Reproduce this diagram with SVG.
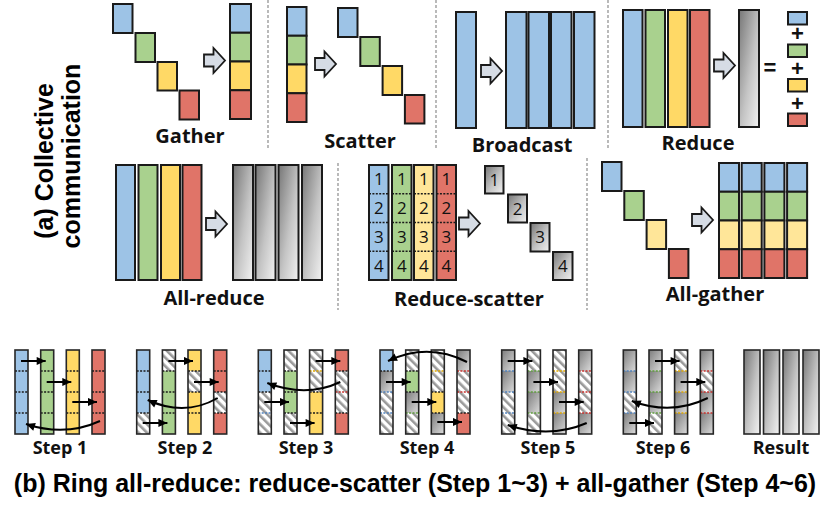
<svg xmlns="http://www.w3.org/2000/svg" width="831" height="511" viewBox="0 0 831 511">
<defs>
<style>
.k{stroke:#1a1a1a;stroke-width:2}
.k2{stroke:#262626;stroke-width:1.6}
.B{fill:#9dc3e6}.G{fill:#a9d18e}.Y{fill:#ffd966}.YL{fill:#ffe699}.R{fill:#e07468}
.GR{fill:url(#grad)}.H{fill:url(#hatch)}.S{fill:url(#sgrad)}
.ol{fill:none;stroke:#262626;stroke-width:1.6}
.sep{stroke:#8c8c8c;stroke-width:1.2;stroke-dasharray:3 2;fill:none}
.lbl{font-family:"Open Sans","Liberation Sans",sans-serif;font-weight:700;font-size:20px;fill:#111;text-anchor:middle}
.st{font-family:"Open Sans","Liberation Sans",sans-serif;font-weight:700;font-size:18px;fill:#111;text-anchor:middle}
.cap{font-family:"Liberation Sans",Arial,sans-serif;font-weight:700;font-size:25px;fill:#000;text-anchor:middle}
.num{font-family:"Open Sans","Liberation Sans",sans-serif;font-size:17px;fill:#111;text-anchor:middle}
.op{font-family:"Liberation Sans",Arial,sans-serif;font-weight:700;font-size:22px;fill:#111;text-anchor:middle}
.ar{fill:none;stroke:#000;stroke-width:2;marker-end:url(#ah)}
.d{fill:none;stroke-width:1.3;stroke-dasharray:2 1.4}
.dk{stroke:#1a1a1a}.db{stroke:#4f81bd}.dg{stroke:#5f9e3c}.dy{stroke:#e0a800}.dr{stroke:#c9302c}
.blk{fill:#d6dce5;stroke:#1a1a1a;stroke-width:1.8}
</style>
<linearGradient id="grad" x1="0" y1="0" x2="1" y2="1"><stop offset="0" stop-color="#767676"/><stop offset="0.55" stop-color="#c4c4c4"/><stop offset="1" stop-color="#f2f2f2"/></linearGradient>
<linearGradient id="sgrad" x1="0" y1="0" x2="1" y2="1"><stop offset="0" stop-color="#7c7c7c"/><stop offset="1" stop-color="#dcdcdc"/></linearGradient>
<pattern id="hatch" patternUnits="userSpaceOnUse" width="6" height="6" patternTransform="rotate(-45)"><rect width="6" height="6" fill="#fff"/><rect width="2.6" height="6" fill="#9a9a9a"/></pattern>
<marker id="ah" viewBox="0 0 10 10" refX="10" refY="5" markerWidth="10" markerHeight="9" markerUnits="userSpaceOnUse" orient="auto"><path d="M0,0.5 L10,5 L0,9.5 z" fill="#000"/></marker>
<path id="ba" d="M0,-6 H9.5 V-12.5 L21,0 L9.5,12.5 V6 H0 Z"/>
</defs>

<!-- left caption -->
<text class="cap" transform="translate(53,161) rotate(-90)">(a) Collective</text>
<text class="cap" transform="translate(80,156) rotate(-90)">communication</text>

<!-- separators -->
<g id="separators">
<path class="sep" d="M268,0V150M436,0V150M608,0V150M338,163V310M587,158V310"/>
</g>

<g id="gather">
<rect class="B k" x="113" y="4" width="19.5" height="29"/>
<rect class="G k" x="135.5" y="33" width="19.5" height="29"/>
<rect class="Y k" x="157.5" y="62" width="19.5" height="28.5"/>
<rect class="R k" x="179.5" y="90.5" width="19.5" height="29"/>
<rect class="B k" x="230" y="4" width="21" height="28.75"/>
<rect class="G k" x="230" y="32.75" width="21" height="28.75"/>
<rect class="Y k" x="230" y="61.5" width="21" height="28.75"/>
<rect class="R k" x="230" y="90.25" width="21" height="28.75"/>
<use href="#ba" class="blk" x="204" y="60.5"/>
<text class="lbl" x="190" y="143">Gather</text>
</g>

<g id="scatter">
<rect class="B k" x="287" y="7" width="19.5" height="28.75"/>
<rect class="G k" x="287" y="35.75" width="19.5" height="28.75"/>
<rect class="Y k" x="287" y="64.5" width="19.5" height="28.75"/>
<rect class="R k" x="287" y="93.25" width="19.5" height="28.75"/>
<rect class="B k" x="338" y="8" width="19.5" height="29"/>
<rect class="G k" x="360.3" y="37" width="19.5" height="29"/>
<rect class="Y k" x="382.6" y="66" width="19.5" height="29"/>
<rect class="R k" x="404.9" y="95" width="19.5" height="28.5"/>
<use href="#ba" class="blk" x="315" y="64"/>
<text class="lbl" x="360" y="148">Scatter</text>
</g>

<g id="broadcast">
<rect class="B k" x="456" y="12" width="20" height="116"/>
<rect class="B k" x="506" y="12" width="20.5" height="116"/>
<rect class="B k" x="528.5" y="12" width="20.5" height="116"/>
<rect class="B k" x="551" y="12" width="20.5" height="116"/>
<rect class="B k" x="574" y="12" width="20.5" height="116"/>
<use href="#ba" class="blk" x="481" y="71"/>
<text class="lbl" x="522" y="152">Broadcast</text>
</g>

<g id="reduce">
<rect class="B k" x="623" y="10" width="19.5" height="117"/>
<rect class="G k" x="645.5" y="10" width="19.5" height="117"/>
<rect class="Y k" x="668" y="10" width="19.5" height="117"/>
<rect class="R k" x="690" y="10" width="19.5" height="117"/>
<use href="#ba" class="blk" x="714" y="65.5"/>
<rect class="GR k" x="739" y="10" width="20" height="117"/>
<text class="op" x="770" y="75">=</text>
<rect class="B k" x="788" y="12" width="19" height="12.5"/>
<text class="op" x="797.5" y="41">+</text>
<rect class="G k" x="788" y="44.5" width="19" height="12.5"/>
<text class="op" x="797.5" y="76">+</text>
<rect class="Y k" x="788" y="79" width="19" height="12.5"/>
<text class="op" x="797.5" y="111">+</text>
<rect class="R k" x="788" y="113.5" width="19" height="12.5"/>
<text class="lbl" x="698" y="150">Reduce</text>
</g>

<g id="allreduce">
<rect class="B k" x="116" y="165" width="19" height="115"/>
<rect class="G k" x="138.5" y="165" width="19" height="115"/>
<rect class="Y k" x="161" y="165" width="19" height="115"/>
<rect class="R k" x="182.5" y="165" width="19" height="115"/>
<use href="#ba" class="blk" x="206" y="224"/>
<rect class="GR k" x="233" y="165" width="20" height="115"/>
<rect class="GR k" x="255.5" y="165" width="20" height="115"/>
<rect class="GR k" x="278.5" y="165" width="20" height="115"/>
<rect class="GR k" x="302" y="165" width="20" height="115"/>
<text class="lbl" x="214" y="305">All-reduce</text>
</g>

<g id="reducescatter">
<rect class="B" x="369" y="165" width="19.5" height="115"/>
<rect class="G" x="392" y="165" width="19.5" height="115"/>
<rect class="YL" x="414" y="165" width="19.5" height="115"/>
<rect class="R" x="436.5" y="165" width="19.5" height="115"/>
<path class="d dk" style="stroke-width:1.5" d="M369,193.75h19.5M369,222.5h19.5M369,251.25h19.5M392,193.75h19.5M392,222.5h19.5M392,251.25h19.5M414,193.75h19.5M414,222.5h19.5M414,251.25h19.5M436.5,193.75h19.5M436.5,222.5h19.5M436.5,251.25h19.5"/>
<rect class="k" fill="none" x="369" y="165" width="19.5" height="115"/>
<rect class="k" fill="none" x="392" y="165" width="19.5" height="115"/>
<rect class="k" fill="none" x="414" y="165" width="19.5" height="115"/>
<rect class="k" fill="none" x="436.5" y="165" width="19.5" height="115"/>
<g class="num">
<text x="378.75" y="185.4">1</text><text x="401.75" y="185.4">1</text><text x="423.75" y="185.4">1</text><text x="446.25" y="185.4">1</text>
<text x="378.75" y="214.1">2</text><text x="401.75" y="214.1">2</text><text x="423.75" y="214.1">2</text><text x="446.25" y="214.1">2</text>
<text x="378.75" y="242.9">3</text><text x="401.75" y="242.9">3</text><text x="423.75" y="242.9">3</text><text x="446.25" y="242.9">3</text>
<text x="378.75" y="271.6">4</text><text x="401.75" y="271.6">4</text><text x="423.75" y="271.6">4</text><text x="446.25" y="271.6">4</text>
</g>
<use href="#ba" class="blk" x="459" y="223.5"/>
<rect class="GR k" x="485" y="166" width="18.5" height="27.5"/>
<rect class="GR k" x="508" y="194.5" width="19" height="28"/>
<rect class="GR k" x="530.5" y="223" width="19" height="28.5"/>
<rect class="GR k" x="553" y="252" width="19.5" height="28"/>
<g class="num">
<text x="494.25" y="186">1</text><text x="517.5" y="214.5">2</text><text x="540" y="243.3">3</text><text x="562.75" y="272">4</text>
</g>
<text class="lbl" x="469" y="306">Reduce-scatter</text>
</g>

<g id="allgather">
<rect class="B k" x="602" y="162" width="19.5" height="29"/>
<rect class="G k" x="624.3" y="191" width="19.5" height="29"/>
<rect class="YL k" x="646.6" y="220" width="19.5" height="29"/>
<rect class="R k" x="668.9" y="249" width="19.5" height="29"/>
<use href="#ba" class="blk" x="692" y="220"/>
<g id="ag-stacks">
<rect class="B k" x="719" y="163" width="20" height="28.75"/><rect class="G k" x="719" y="191.75" width="20" height="28.75"/><rect class="YL k" x="719" y="220.5" width="20" height="28.75"/><rect class="R k" x="719" y="249.25" width="20" height="28.75"/>
<rect class="B k" x="741.7" y="163" width="20" height="28.75"/><rect class="G k" x="741.7" y="191.75" width="20" height="28.75"/><rect class="YL k" x="741.7" y="220.5" width="20" height="28.75"/><rect class="R k" x="741.7" y="249.25" width="20" height="28.75"/>
<rect class="B k" x="764.4" y="163" width="20" height="28.75"/><rect class="G k" x="764.4" y="191.75" width="20" height="28.75"/><rect class="YL k" x="764.4" y="220.5" width="20" height="28.75"/><rect class="R k" x="764.4" y="249.25" width="20" height="28.75"/>
<rect class="B k" x="787.1" y="163" width="20" height="28.75"/><rect class="G k" x="787.1" y="191.75" width="20" height="28.75"/><rect class="YL k" x="787.1" y="220.5" width="20" height="28.75"/><rect class="R k" x="787.1" y="249.25" width="20" height="28.75"/>
</g>
<text class="lbl" x="715" y="301">All-gather</text>
</g>

<!-- Ring all-reduce steps -->
<g id="step1" transform="translate(15,0)">
<rect class="B" x="0" y="350" width="13" height="84"/>
<rect class="G" x="25.7" y="350" width="13" height="84"/>
<rect class="Y" x="51.3" y="350" width="13" height="84"/>
<rect class="R" x="77" y="350" width="13" height="84"/>
<path class="d dk" d="M0,371h13M0,392h13M0,413h13M25.7,371h13M25.7,392h13M25.7,413h13M51.3,371h13M51.3,392h13M51.3,413h13M77,371h13M77,392h13M77,413h13"/>
<rect class="ol" x="0" y="350" width="13" height="84"/><rect class="ol" x="25.7" y="350" width="13" height="84"/><rect class="ol" x="51.3" y="350" width="13" height="84"/><rect class="ol" x="77" y="350" width="13" height="84"/>
<text class="st" x="45" y="454">Step 1</text>
</g>

<g id="step2" transform="translate(136.7,0)">
<rect class="B" x="0" y="350" width="13" height="63"/><rect class="H" x="0" y="413" width="13" height="21"/>
<rect class="H" x="25.7" y="350" width="13" height="21"/><rect class="G" x="25.7" y="371" width="13" height="63"/>
<rect class="Y" x="51.3" y="350" width="13" height="21"/><rect class="H" x="51.3" y="371" width="13" height="21"/><rect class="Y" x="51.3" y="392" width="13" height="42"/>
<rect class="R" x="77" y="350" width="13" height="42"/><rect class="H" x="77" y="392" width="13" height="21"/><rect class="R" x="77" y="413" width="13" height="21"/>
<path class="d dk" d="M0,371h13M0,392h13M0,413h13M25.7,371h13M25.7,392h13M25.7,413h13M51.3,371h13M51.3,392h13M51.3,413h13M77,371h13M77,392h13M77,413h13"/>
<rect class="ol" x="0" y="350" width="13" height="84"/><rect class="ol" x="25.7" y="350" width="13" height="84"/><rect class="ol" x="51.3" y="350" width="13" height="84"/><rect class="ol" x="77" y="350" width="13" height="84"/>
<text class="st" x="48.3" y="454">Step 2</text>
</g>

<g id="step3" transform="translate(258.3,0)">
<rect class="B" x="0" y="350" width="13" height="42"/><rect class="H" x="0" y="392" width="13" height="42"/>
<rect class="H" x="25.7" y="350" width="13" height="21"/><rect class="G" x="25.7" y="371" width="13" height="42"/><rect class="H" x="25.7" y="413" width="13" height="21"/>
<rect class="H" x="51.3" y="350" width="13" height="42"/><rect class="Y" x="51.3" y="392" width="13" height="42"/>
<rect class="R" x="77" y="350" width="13" height="21"/><rect class="H" x="77" y="371" width="13" height="42"/><rect class="R" x="77" y="413" width="13" height="21"/>
<path class="d dk" d="M0,371h13M0,392h13M25.7,371h13M25.7,392h13M25.7,413h13M51.3,392h13M51.3,413h13M77,371h13M77,413h13"/>
<path class="d db" d="M0,413h13"/><path class="d dy" d="M51.3,371h13"/><path class="d dr" d="M77,392h13"/>
<rect class="ol" x="0" y="350" width="13" height="84"/><rect class="ol" x="25.7" y="350" width="13" height="84"/><rect class="ol" x="51.3" y="350" width="13" height="84"/><rect class="ol" x="77" y="350" width="13" height="84"/>
<text class="st" x="47.7" y="454">Step 3</text>
</g>

<g id="step4" transform="translate(380,0)">
<rect class="B" x="0" y="350" width="13" height="21"/><rect class="S" x="0" y="371" width="13" height="21"/><rect class="H" x="0" y="392" width="13" height="42"/>
<rect class="H" x="25.7" y="350" width="13" height="21"/><rect class="G" x="25.7" y="371" width="13" height="21"/><rect class="S" x="25.7" y="392" width="13" height="21"/><rect class="H" x="25.7" y="413" width="13" height="21"/>
<rect class="H" x="51.3" y="350" width="13" height="42"/><rect class="Y" x="51.3" y="392" width="13" height="21"/><rect class="S" x="51.3" y="413" width="13" height="21"/>
<rect class="S" x="77" y="350" width="13" height="21"/><rect class="H" x="77" y="371" width="13" height="42"/><rect class="R" x="77" y="413" width="13" height="21"/>
<path class="d dk" d="M0,371h13M25.7,371h13M25.7,392h13M51.3,392h13M51.3,413h13M77,413h13"/>
<path class="d db" d="M0,392h13M0,413h13"/><path class="d dg" d="M25.7,413h13"/><path class="d dy" d="M51.3,371h13"/><path class="d dr" d="M77,371h13M77,392h13"/>
<rect class="ol" x="0" y="350" width="13" height="84"/><rect class="ol" x="25.7" y="350" width="13" height="84"/><rect class="ol" x="51.3" y="350" width="13" height="84"/><rect class="ol" x="77" y="350" width="13" height="84"/>
<text class="st" x="47" y="454">Step 4</text>
</g>

<g id="step5" transform="translate(501.7,0)">
<rect class="S" x="0" y="350" width="13" height="21"/><rect class="S" x="0" y="371" width="13" height="21"/><rect class="H" x="0" y="392" width="13" height="42"/>
<rect class="H" x="25.7" y="350" width="13" height="21"/><rect class="S" x="25.7" y="371" width="13" height="21"/><rect class="S" x="25.7" y="392" width="13" height="21"/><rect class="H" x="25.7" y="413" width="13" height="21"/>
<rect class="H" x="51.3" y="350" width="13" height="42"/><rect class="S" x="51.3" y="392" width="13" height="21"/><rect class="S" x="51.3" y="413" width="13" height="21"/>
<rect class="S" x="77" y="350" width="13" height="21"/><rect class="H" x="77" y="371" width="13" height="42"/><rect class="S" x="77" y="413" width="13" height="21"/>
<path class="d db" d="M0,371h13M0,392h13M0,413h13"/><path class="d dg" d="M25.7,371h13M25.7,392h13M25.7,413h13"/><path class="d dy" d="M51.3,371h13M51.3,392h13M51.3,413h13"/><path class="d dr" d="M77,371h13M77,392h13M77,413h13"/>
<rect class="ol" x="0" y="350" width="13" height="84"/><rect class="ol" x="25.7" y="350" width="13" height="84"/><rect class="ol" x="51.3" y="350" width="13" height="84"/><rect class="ol" x="77" y="350" width="13" height="84"/>
<text class="st" x="46.3" y="454">Step 5</text>
</g>

<g id="step6" transform="translate(623.3,0)">
<rect class="S" x="0" y="350" width="13" height="21"/><rect class="S" x="0" y="371" width="13" height="21"/><rect class="H" x="0" y="392" width="13" height="21"/><rect class="S" x="0" y="413" width="13" height="21"/>
<rect class="S" x="25.7" y="350" width="13" height="21"/><rect class="S" x="25.7" y="371" width="13" height="21"/><rect class="S" x="25.7" y="392" width="13" height="21"/><rect class="H" x="25.7" y="413" width="13" height="21"/>
<rect class="H" x="51.3" y="350" width="13" height="21"/><rect class="S" x="51.3" y="371" width="13" height="21"/><rect class="S" x="51.3" y="392" width="13" height="21"/><rect class="S" x="51.3" y="413" width="13" height="21"/>
<rect class="S" x="77" y="350" width="13" height="21"/><rect class="H" x="77" y="371" width="13" height="21"/><rect class="S" x="77" y="392" width="13" height="21"/><rect class="S" x="77" y="413" width="13" height="21"/>
<path class="d db" d="M0,371h13M0,392h13M0,413h13"/><path class="d dg" d="M25.7,371h13M25.7,392h13M25.7,413h13"/><path class="d dy" d="M51.3,371h13M51.3,392h13M51.3,413h13"/><path class="d dr" d="M77,371h13M77,392h13M77,413h13"/>
<rect class="ol" x="0" y="350" width="13" height="84"/><rect class="ol" x="25.7" y="350" width="13" height="84"/><rect class="ol" x="51.3" y="350" width="13" height="84"/><rect class="ol" x="77" y="350" width="13" height="84"/>
<text class="st" x="39.7" y="454">Step 6</text>
</g>

<g id="result">
<rect class="GR k2" x="744" y="350" width="16" height="84"/>
<rect class="GR k2" x="763.5" y="350" width="16" height="84"/>
<rect class="GR k2" x="783" y="350" width="16" height="84"/>
<rect class="GR k2" x="803" y="350" width="16" height="84"/>
<text class="st" x="781" y="454">Result</text>
</g>

<g id="connectors">
<g transform="translate(15,0)">
<path class="ar" d="M6,361H30.7"/><path class="ar" d="M31.7,382H56.3"/><path class="ar" d="M57.3,402H82"/>
<path class="ar" d="M85,421Q50,437 11,424"/>
</g>
<g transform="translate(136.7,0)">
<path class="ar" d="M31.7,361H56.3"/><path class="ar" d="M57.3,382H82"/><path class="ar" d="M6,423H30.7"/>
<path class="ar" d="M81,398Q48,417 11,400"/>
</g>
<g transform="translate(258.3,0)">
<path class="ar" d="M57.3,361H82"/><path class="ar" d="M6,402H30.7"/><path class="ar" d="M31.7,423H56.3"/>
<path class="ar" d="M82,382Q48,398 9,383"/>
</g>
<g transform="translate(380,0)">
<path class="ar" d="M6,382H30.7"/><path class="ar" d="M31.7,402H56.3"/><path class="ar" d="M57.3,422H82"/>
<path class="ar" d="M87,362Q48,342 8,361"/>
</g>
<g transform="translate(501.7,0)">
<path class="ar" d="M6,361H30.7"/><path class="ar" d="M31.7,382H56.3"/><path class="ar" d="M57.3,402H82"/>
<path class="ar" d="M85,423Q48,439 6,425"/>
</g>
<g transform="translate(623.3,0)">
<path class="ar" d="M31.7,361H56.3"/><path class="ar" d="M57.3,382H82"/><path class="ar" d="M6,423H30.7"/>
<path class="ar" d="M84.5,398Q48,416 8.5,401"/>
</g>
</g>

<text class="cap" x="415" y="492">(b) Ring all-reduce: reduce-scatter (Step 1~3) + all-gather (Step 4~6)</text>
</svg>
